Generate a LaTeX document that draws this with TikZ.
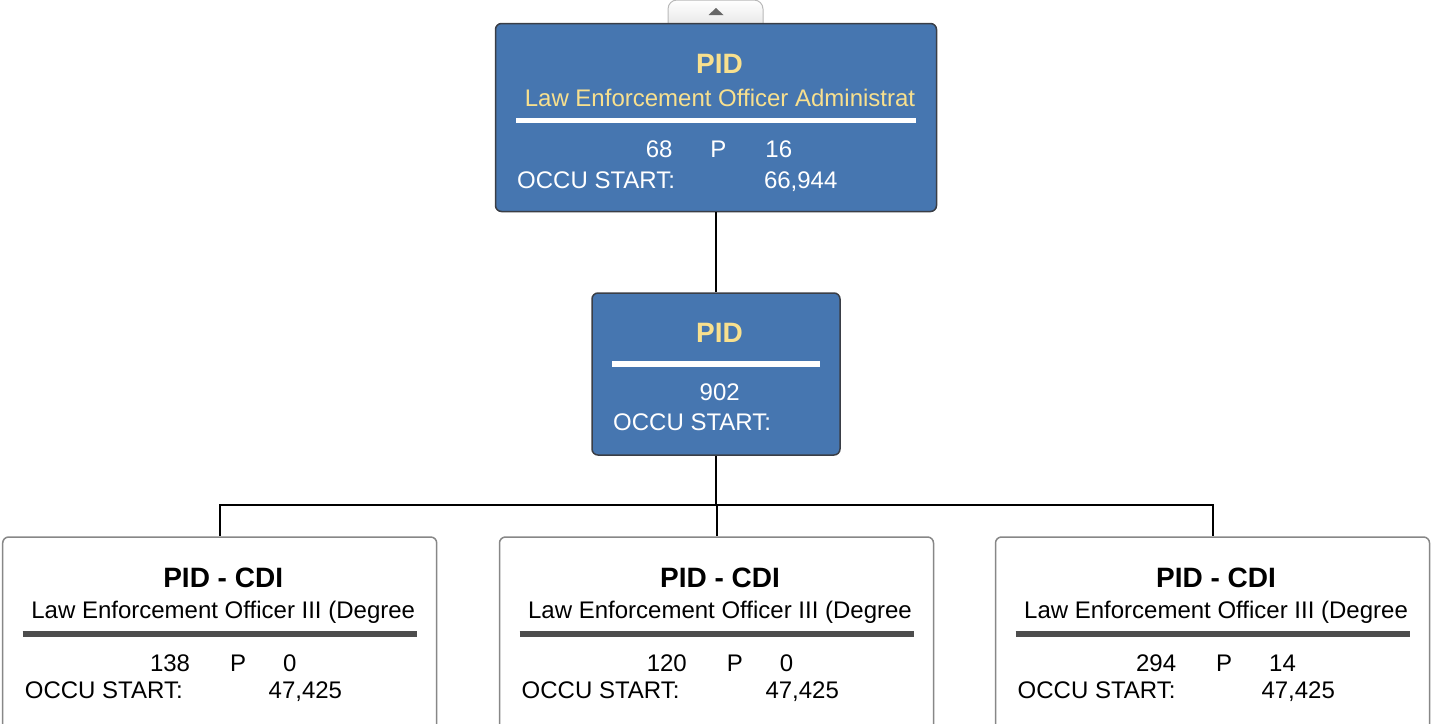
\documentclass[tikz,border=0pt]{standalone}
\usepackage{fontspec}
\setmainfont{Liberation Sans}
\usepackage{xcolor}
\usetikzlibrary{positioning}
\definecolor{unitblue}{RGB}{70,118,176}
\definecolor{unitedge}{RGB}{58,62,70}
\definecolor{titleyellow}{RGB}{248,224,142}
\definecolor{rulegray}{RGB}{77,77,77}
\definecolor{cdiedge}{RGB}{135,135,135}

\begin{document}
\begin{tikzpicture}[x=1pt,y=-1pt,font=\fontsize{24}{28}\selectfont,
		unit/.style={draw=unitedge,fill=unitblue,line width=1.5pt,rounded corners=6pt},
		cdi/.style={draw=cdiedge,fill=white,line width=1.5pt,rounded corners=6pt},
		toggle/.style={draw=gray!55,top color=white,bottom color=gray!25,line width=1pt,rounded corners=9pt},
		head/.style={font=\fontsize{28}{32}\selectfont\bfseries,anchor=base,inner sep=0pt},
		txt/.style={anchor=base,inner sep=0pt},
		link/.style={draw=black,line width=2pt}]
			\useasboundingbox (0,0) rectangle (1431,723);

			% collapse tab
			\node[toggle,minimum width=95,minimum height=34] (tab) at (715.5,17) {};
			\fill[gray!80!black] (708.5,15) -- (723.5,15) -- (716,8) -- cycle;

			% top unit
			\node[unit,minimum width=441,minimum height=188] (admin) at (716,117.5) {};
			\node[head,text=titleyellow] (admin-code) at (719.5,73) {PID};
			\node[txt,text=titleyellow] (admin-title) at (720,106) {Law Enforcement Officer Administrat};
			\draw[white,line width=5pt] (516,120.5) -- (916,120.5);
			\node[txt,text=white] (admin-count) at (719,157) {68\hspace{38pt}P\hspace{39pt}16};
			\node[txt,text=white,anchor=base west] (admin-start) at (517,188) {OCCU START:\hspace{89pt}66,944};

			% middle unit
			\node[unit,minimum width=248,minimum height=162] (pid) at (716,374) {};
			\node[head,text=titleyellow] (pid-code) at (719.5,342.5) {PID};
			\draw[white,line width=6pt] (612,363.5) -- (820,363.5);
			\node[txt,text=white] (pid-count) at (719.7,400.5) {902};
			\node[txt,text=white,anchor=base west] (pid-start) at (613,430.5) {OCCU START:};

			% positions
			\foreach \i/\cx/\num/\pos in {1/219.7/138/0,2/716.5/120/0,3/1212.5/294/14}{
				\node[cdi,minimum width=434,minimum height=220] (cdi\i) at (\cx,647) {};
				\node[head] (cdi\i-code) at ({\cx+3.5},587) {PID - CDI};
				\node[txt] (cdi\i-title) at ({\cx+3.5},618) {Law Enforcement Officer III (Degree};
				\draw[rulegray,line width=6pt] ({\cx-197},633.5) -- ({\cx+197},633.5);
				\node[txt] (cdi\i-count) at ({\cx+3.5},671.5) {\num\hspace{40pt}P\hspace{37pt}\pos};
				\node[txt,anchor=base west] (cdi\i-start) at ({\cx-195},698) {OCCU START:\hspace{86pt}47,425};
			}

			% connectors
			\coordinate (bus) at (716,505);
			\draw[link] (admin) -- (pid);
			\draw[link] (pid) -- (bus);
			\foreach \i in {1,2,3}
				\draw[link] (bus) -| (cdi\i);
\end{tikzpicture}
\end{document}
